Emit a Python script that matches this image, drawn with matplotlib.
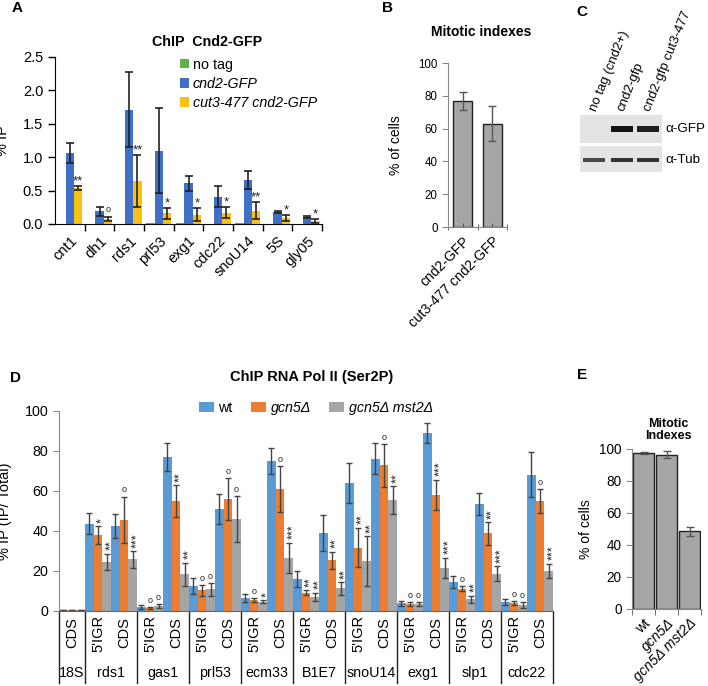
import matplotlib
matplotlib.use('Agg')
import matplotlib.pyplot as plt
import numpy as np
from matplotlib.patches import Patch, Rectangle
from matplotlib.transforms import blended_transform_factory
from matplotlib.ticker import FormatStrFormatter

plt.rcParams['font.family'] = ['Liberation Sans', 'DejaVu Sans']

# ---------------- data ----------------
# Panel A
genes_a = ['cnt1', 'dh1', 'rds1', 'prl53', 'exg1', 'cdc22', 'snoU14', '5S', 'gly05']
notag_a = [0.0, 0.0, 0.0, 0.01, 0.01, 0.005, 0.01, 0.0, 0.0]
cnd2_a = [1.07, 0.19, 1.71, 1.10, 0.61, 0.41, 0.66, 0.18, 0.10]
cnd2_err_a = [0.15, 0.07, 0.56, 0.63, 0.11, 0.16, 0.14, 0.02, 0.015]
cut3_a = [0.54, 0.08, 0.64, 0.16, 0.14, 0.17, 0.20, 0.09, 0.05]
cut3_err_a = [0.035, 0.03, 0.39, 0.08, 0.10, 0.08, 0.13, 0.04, 0.03]
sig_a = ['**', 'o', '**', '*', '*', '*', '**', '*', '*']
legend_a = ['no tag', 'cnd2-GFP', 'cut3-477 cnd2-GFP']

# Panel B
strains_b = ['cnd2-GFP', 'cut3-477 cnd2-GFP']
mi_b = [77, 63]
mi_err_b = [5.5, 10.5]

# Panel C (western blot band intensities)
lanes_c = ['no tag (cnd2+)', 'cnd2-gfp', 'cnd2-gfp cut3-477']
gfp_c = [0.0, 1.0, 0.95]
tub_c = [0.75, 0.85, 0.85]
blot_labels_c = ['α-GFP', 'α-Tub']

# Panel D
genes_d = ['18S', 'rds1', 'gas1', 'prl53', 'ecm33', 'B1E7', 'snoU14', 'exg1', 'slp1', 'cdc22']
regions_d = ['CDS',
             "5'IGR", 'CDS', "5'IGR", 'CDS', "5'IGR", 'CDS', "5'IGR", 'CDS', "5'IGR", 'CDS',
             "5'IGR", 'CDS', "5'IGR", 'CDS', "5'IGR", 'CDS', "5'IGR", 'CDS']
series_d = ['wt', 'gcn5Δ', 'gcn5Δ mst2Δ']
wt_d = [0.5, 43.7, 42.5, 2.0, 77.0, 12.5, 51.0, 6.7, 75.0, 15.8, 39.2, 64.0, 76.2, 3.8, 89.1, 14.5, 53.3, 4.7, 68.2]
wt_err_d = [0.2, 5.2, 5.8, 1.2, 6.9, 4.0, 7.5, 2.0, 6.6, 4.0, 9.0, 10.0, 7.7, 1.2, 5.0, 3.1, 5.5, 1.5, 11.3]
gcn5_d = [0.5, 37.8, 45.5, 1.5, 55.0, 10.3, 55.8, 5.3, 60.8, 9.2, 25.3, 31.7, 72.9, 3.5, 58.1, 11.2, 38.8, 3.8, 54.8]
gcn5_err_d = [0.2, 4.5, 11.7, 0.5, 7.9, 2.8, 10.5, 1.0, 11.5, 1.2, 4.4, 9.9, 10.7, 1.0, 7.5, 1.4, 5.6, 1.0, 6.0]
mst2_d = [0.5, 24.5, 25.8, 2.5, 18.3, 10.8, 46.1, 4.7, 26.7, 7.2, 11.3, 25.0, 55.3, 3.5, 21.7, 5.8, 18.7, 3.0, 20.0]
mst2_err_d = [0.2, 4.2, 4.2, 1.0, 5.8, 3.3, 11.4, 0.7, 7.5, 2.0, 3.2, 12.5, 7.0, 1.0, 5.0, 1.9, 3.6, 1.5, 3.7]
sig_gcn5_d = ['', '*', 'o', 'o', '**', 'o', 'o', 'o', 'o', '**', '**', '**', 'o', 'o', '***', 'o', '**', 'o', 'o']
sig_mst2_d = ['', '**', '***', 'o', '**', 'o', 'o', '*', '***', '**', '**', '**', '**', 'o', '***', '**', '***', 'o', '***']

# Panel E
strains_e = ['wt', 'gcn5Δ', 'gcn5Δ mst2Δ']
mi_e = [97.5, 96.5, 48.5]
mi_err_e = [0.6, 2.2, 3.0]

# ---------------- figure ----------------
W, H = 708, 686
fig = plt.figure(figsize=(W / 100, H / 100), dpi=100)


def add_ax(x0, y0, x1, y1):
    return fig.add_axes([x0 / W, 1 - y1 / H, (x1 - x0) / W, (y1 - y0) / H])


def ftext(x, y, s, **kw):
    return fig.text(x / W, 1 - y / H, s, **kw)


def mark(ax, x, y, s, rotated=False, fs=9):
    if s == 'o':
        ax.annotate('o', xy=(x, y), xytext=(0, 3), textcoords='offset points',
                    ha='center', va='baseline', fontsize=6.5, color='#222222')
    elif rotated:
        ax.annotate(s, xy=(x, y), xytext=(0.57 * fs, 2.5), textcoords='offset points',
                    ha='left', va='baseline', rotation=90, rotation_mode='anchor',
                    fontsize=fs, color='#222222')
    else:
        ax.annotate(s, xy=(x, y), xytext=(0, 1), textcoords='offset points',
                    ha='center', va='baseline', fontsize=fs, color='#222222')


# ---- Panel labels ----
for lab, (x, y) in {'A': (12, 8), 'B': (382, 8), 'C': (576, 12), 'D': (10, 378), 'E': (577, 375)}.items():
    ftext(x, y, lab, fontsize=11, fontweight='bold', ha='left', va='center')

# ---- Panel A ----
axA = add_ax(55, 57, 322, 224)
xa = np.arange(len(genes_a))
bw = 0.28
ekw = dict(ecolor='#222222', elinewidth=1.2, capthick=1.2)
hA = []
hA.append(axA.bar(xa - bw, notag_a, bw, color='#5cb446'))
hA.append(axA.bar(xa, cnd2_a, bw, color='#3f6fc6', yerr=cnd2_err_a, capsize=3, error_kw=ekw))
hA.append(axA.bar(xa + bw, cut3_a, bw, color='#f9c016', yerr=cut3_err_a, capsize=3, error_kw=ekw))
axA.set_xlim(-0.5, len(genes_a) - 0.5)
axA.set_ylim(0, 2.5)
axA.set_yticks(np.arange(0, 2.51, 0.5))
axA.yaxis.set_major_formatter(FormatStrFormatter('%.1f'))
axA.set_xticks(xa)
axA.set_xticklabels(genes_a, rotation=45, ha='right', rotation_mode='anchor', fontsize=10.5)
axA.set_xticks(np.arange(0.5, len(genes_a), 1), minor=True)
axA.tick_params(axis='x', which='major', length=0, pad=7)
axA.tick_params(axis='x', which='minor', length=5, width=1)
axA.tick_params(axis='y', labelsize=10.5, length=5, width=1)
for s in ['top', 'right']:
    axA.spines[s].set_visible(False)
axA.set_ylabel('% IP', fontsize=10.5)
axA.yaxis.set_label_coords(-0.17, 0.5)
for i, s in enumerate(sig_a):
    mark(axA, xa[i] + bw, cut3_a[i] + cut3_err_a[i], s, fs=9.5)
legA = axA.legend([h[0] for h in hA], legend_a, loc='upper left',
                  bbox_to_anchor=(180 / W, 1 - 58 / H), bbox_transform=fig.transFigure,
                  frameon=False, fontsize=10.3, handlelength=0.6, handleheight=0.6,
                  handletextpad=0.3, labelspacing=0.35, borderpad=0, borderaxespad=0)
legA.get_texts()[1].set_style('italic')
legA.get_texts()[2].set_style('italic')
ftext(207, 42, 'ChIP  Cnd2-GFP', fontsize=10.3, fontweight='bold', ha='center', va='center')

# ---- Panel B ----
axB = add_ax(448, 63, 507, 227)
xb = np.arange(len(strains_b))
axB.bar(xb, mi_b, 0.65, color='#a6a6a6', edgecolor='#222222', linewidth=1,
        yerr=mi_err_b, capsize=3, error_kw=dict(ecolor='#555555', elinewidth=1, capthick=1))
axB.set_xlim(-0.5, 1.5)
axB.set_ylim(0, 100)
axB.set_yticks(np.arange(0, 101, 20))
axB.set_xticks(xb)
axB.set_xticklabels(strains_b, rotation=45, ha='right', rotation_mode='anchor', fontsize=10)
axB.set_xticks([-0.5, 0.5, 1.5], minor=True)
axB.tick_params(axis='x', which='major', length=3, direction='in', color='#555555', pad=5)
axB.tick_params(axis='x', which='minor', length=4, direction='inout', color='#555555')
axB.tick_params(axis='y', labelsize=8.3, length=4, color='#888888')
for s in ['top', 'right']:
    axB.spines[s].set_visible(False)
for s in ['left', 'bottom']:
    axB.spines[s].set_color('#888888')
axB.set_ylabel('% of cells', fontsize=10)
axB.yaxis.set_label_coords((403 - 448) / 59, 0.5)
ftext(481, 32, 'Mitotic indexes', fontsize=10, fontweight='bold', ha='center', va='center')

# ---- Panel C (blot) ----
axC = add_ax(580, 115, 662, 172)
axC.set_xlim(0, 82)
axC.set_ylim(57, 0)
axC.axis('off')
axC.add_patch(Rectangle((0, 0), 82, 28, facecolor='#e4e4e4', edgecolor='none'))
axC.add_patch(Rectangle((0, 31), 82, 26, facecolor='#e4e4e4', edgecolor='none'))
lane_x = np.array([14, 42, 68])
bg = np.array([0.894, 0.894, 0.894])
dark = np.array([0.08, 0.08, 0.08])
gfp_cols = [tuple(bg * (1 - v) + dark * v) for v in gfp_c]
tub_cols = [tuple(bg * (1 - v) + dark * v) for v in tub_c]
axC.bar(lane_x, [6] * 3, width=22, bottom=[11] * 3, color=gfp_cols)
axC.bar(lane_x, [3.5] * 3, width=22, bottom=[43.2] * 3, color=tub_cols)
for i, lab in enumerate(lanes_c):
    ftext(580 + lane_x[i] - 1, 111, lab, rotation=68, rotation_mode='anchor',
          ha='left', va='center', fontsize=9.5)
ftext(665, 129, blot_labels_c[0], fontsize=9.7, ha='left', va='center')
ftext(665, 160, blot_labels_c[1], fontsize=9.7, ha='left', va='center')

# ---- Panel D ----
axD = add_ax(59, 411, 553, 611)
n = len(wt_d)
xd = np.arange(n)
w = 0.32
off = 0.33
ekwD = dict(ecolor='#444444', elinewidth=1, capthick=1)
cols_d = ['#5b9bd5', '#ed7d31', '#a5a5a5']
hD = []
hD.append(axD.bar(xd - off, wt_d, w, color=cols_d[0], yerr=wt_err_d, capsize=2.5, error_kw=ekwD))
hD.append(axD.bar(xd, gcn5_d, w, color=cols_d[1], yerr=gcn5_err_d, capsize=2.5, error_kw=ekwD))
hD.append(axD.bar(xd + off, mst2_d, w, color=cols_d[2], yerr=mst2_err_d, capsize=2.5, error_kw=ekwD))
axD.set_xlim(-0.5, n - 0.5)
axD.set_ylim(0, 100)
axD.set_yticks(np.arange(0, 101, 20))
axD.set_xticks([])
axD.tick_params(axis='y', labelsize=10.3, length=4, color='#888888')
for s in ['top', 'right']:
    axD.spines[s].set_visible(False)
axD.spines['left'].set_color('#888888')
axD.spines['bottom'].set_color('#666666')
axD.set_ylabel('% IP (IP/ Total)', fontsize=10.5)
axD.yaxis.set_label_coords((12 - 59) / 494, 0.5)
for i in range(n):
    if sig_gcn5_d[i]:
        mark(axD, xd[i], gcn5_d[i] + gcn5_err_d[i], sig_gcn5_d[i], rotated=True, fs=9)
    if sig_mst2_d[i]:
        mark(axD, xd[i] + off, mst2_d[i] + mst2_err_d[i], sig_mst2_d[i], rotated=True, fs=9)

# category table below D
trD = blended_transform_factory(axD.transData, axD.transAxes)
bounds = [-0.5, 0.5] + [0.5 + 2 * k for k in range(1, len(genes_d))]
for b in bounds:
    axD.plot([b, b], [0, -0.36], color='#222222', lw=1, transform=trD, clip_on=False)
for i, r in enumerate(regions_d):
    axD.text(xd[i], -0.11, r, rotation=90, ha='center', va='center', fontsize=10.5, transform=trD)
gene_centers = [0] + [1.5 + 2 * k for k in range(len(genes_d) - 1)]
for g, c in zip(genes_d, gene_centers):
    axD.text(c, -0.31, g, ha='center', va='center', fontsize=10.3, transform=trD)

legD = fig.legend([h[0] for h in hD], series_d, loc='center left',
                  bbox_to_anchor=(199 / W, 1 - 408 / H), ncol=3, frameon=False,
                  fontsize=10.3, handlelength=1.05, handleheight=0.75, handletextpad=0.3,
                  columnspacing=1.3, borderpad=0, borderaxespad=0)
legD.get_texts()[1].set_style('italic')
legD.get_texts()[2].set_style('italic')
ftext(312, 377, 'ChIP RNA Pol II (Ser2P)', fontsize=10.5, fontweight='bold', ha='center', va='center')

# ---- Panel E ----
axE = add_ax(632, 449, 701, 609)
xe = np.arange(len(strains_e))
axE.bar(xe, mi_e, 0.87, color='#a6a6a6', edgecolor='#222222', linewidth=1,
        yerr=mi_err_e, capsize=3, error_kw=dict(ecolor='#555555', elinewidth=1, capthick=1))
axE.set_xlim(-0.5, 2.5)
axE.set_ylim(0, 100)
axE.set_yticks(np.arange(0, 101, 20))
axE.set_xticks(xe)
axE.set_xticklabels(strains_e, rotation=45, ha='right', rotation_mode='anchor', fontsize=10)
for t in axE.get_xticklabels()[1:]:
    t.set_style('italic')
axE.set_xticks([-0.5, 0.5, 1.5, 2.5], minor=True)
axE.tick_params(axis='x', which='major', length=0, pad=5)
axE.tick_params(axis='x', which='minor', length=4, direction='out', color='#555555')
axE.tick_params(axis='y', labelsize=9.8, length=4, color='#888888')
for s in ['top', 'right']:
    axE.spines[s].set_visible(False)
for s in ['left', 'bottom']:
    axE.spines[s].set_color('#888888')
axE.set_ylabel('% of cells', fontsize=10)
axE.yaxis.set_label_coords((593 - 632) / 69, 0.5)
ftext(668, 430, 'Mitotic\nIndexes', fontsize=9, fontweight='bold', ha='center', va='center',
      linespacing=1.05)

fig.savefig('out.png', dpi=100)
